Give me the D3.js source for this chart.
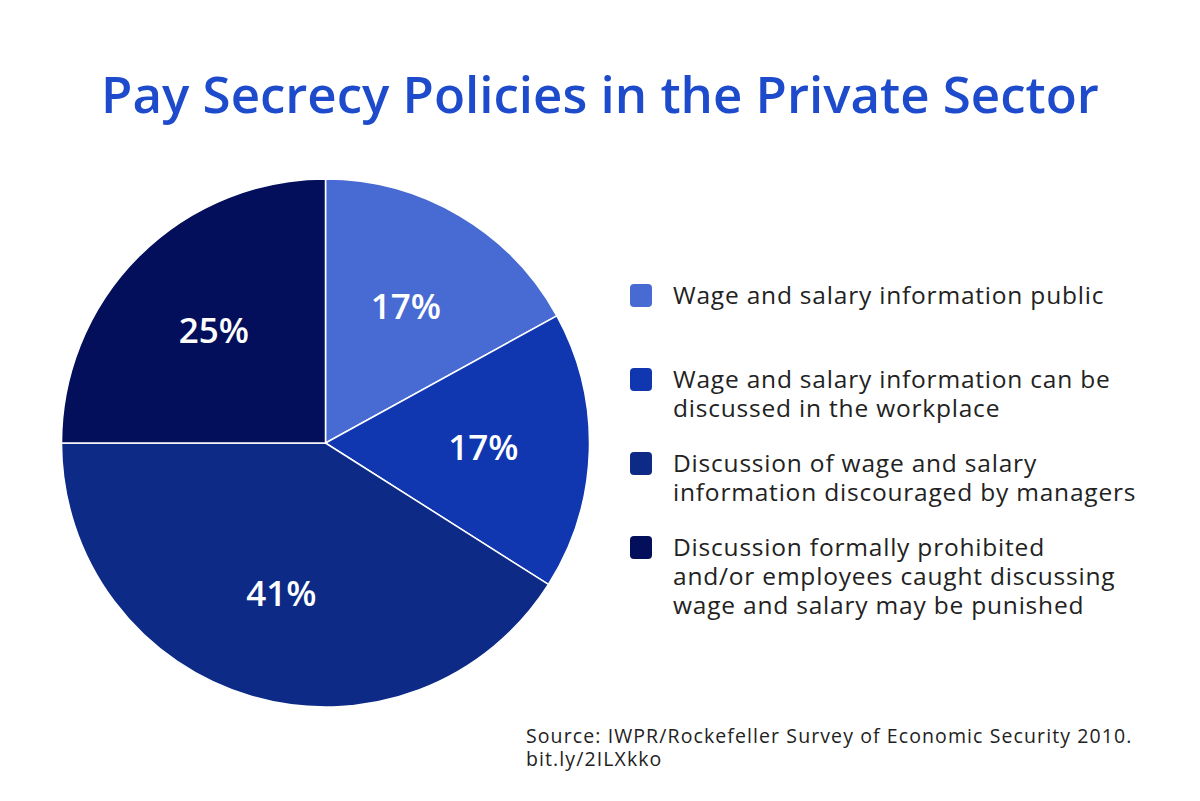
<!DOCTYPE html>
<html>
<head>
<meta charset="utf-8">
<script src="https://cdn.jsdelivr.net/npm/d3@7"></script>
<style>
  body { margin: 0; background: #fff; }
  text { font-family: "Open Sans", "Noto Sans", sans-serif; }
</style>
</head>
<body>
<div id="chart-area"></div>
<script>
// Data
let categories = [
	["Wage and salary information public"],
	["Wage and salary information can be", "discussed in the workplace"],
	["Discussion of wage and salary", "information discouraged by managers"],
	["Discussion formally prohibited", "and/or employees caught discussing", "wage and salary may be punished"]
];
let values = [17, 17, 41, 25];
let colors = ["#486bd3", "#1037b0", "#0c2a86", "#030f5b"];
let title = "Pay Secrecy Policies in the Private Sector";
let sourceLines = ["Source: IWPR/Rockefeller Survey of Economic Security 2010.", "bit.ly/2ILXkko"];

let width = 1200,
	height = 801;

let svg = d3.select("#chart-area")
	.append("svg")
	.attr("width", width)
	.attr("height", height);

// scale a text's font size so it spans the given width
function fitWidth(sel, target) {
	let size = parseFloat(sel.attr("font-size"));
	let w = sel.node().getComputedTextLength();
	sel.attr("font-size", size * target / w);
}

// Title
let titleText = svg.append("text")
	.attr("x", 600)
	.attr("y", 113)
	.attr("text-anchor", "middle")
	.attr("font-size", 48)
	.attr("font-weight", 600)
	.attr("fill", "#1e4bcc")
	.text(title);
fitWidth(titleText, 998);

// Pie
let cx = 325.5, cy = 443, radius = 264;

let pie = d3.pie().sort(null).value(d => d);
let arc = d3.arc().innerRadius(0).outerRadius(radius);
let labelArc = d3.arc().innerRadius(158).outerRadius(158);

let pieGroup = svg.append("g")
	.attr("transform", "translate(" + cx + "," + cy + ")");

let arcs = pie(values);

pieGroup.selectAll("path")
	.data(arcs)
	.enter()
	.append("path")
	.attr("d", arc)
	.attr("fill", (d, i) => colors[i])
	.attr("stroke", "#fff")
	.attr("stroke-width", 1.5);

pieGroup.selectAll("text.pct")
	.data(arcs)
	.enter()
	.append("text")
	.attr("class", "pct")
	.attr("transform", d => "translate(" + labelArc.centroid(d) + ")")
	.attr("text-anchor", "middle")
	.attr("dy", "0.33em")
	.attr("font-size", 35)
	.attr("font-weight", 600)
	.attr("fill", "#fff")
	.text(d => d.data + "%");

// Legend
let legendY = d3.scaleLinear().domain([0, 1]).range([284, 368]);
let lineHeight = 29.4;

let legend = svg.append("g").attr("class", "legend");

categories.forEach((lines, i) => {
	let top = legendY(i);
	legend.append("rect")
		.attr("x", 630)
		.attr("y", top)
		.attr("width", 22)
		.attr("height", 23)
		.attr("rx", 4)
		.attr("fill", colors[i]);

	let t = legend.append("text")
		.attr("x", 673)
		.attr("y", top + 19.5)
		.attr("font-size", 24.5)
		.attr("letter-spacing", 0.8)
		.attr("fill", "#222");
	lines.forEach((line, j) => {
		t.append("tspan")
			.attr("x", 673)
			.attr("dy", j === 0 ? 0 : lineHeight)
			.text(line);
	});
});

// Source
let src = svg.append("text")
	.attr("x", 526)
	.attr("y", 743)
	.attr("font-size", 19.5)
	.attr("letter-spacing", 1.1)
	.attr("fill", "#222");
sourceLines.forEach((line, j) => {
	src.append("tspan")
		.attr("x", 526)
		.attr("dy", j === 0 ? 0 : 23)
		.text(line);
});
</script>
</body>
</html>
